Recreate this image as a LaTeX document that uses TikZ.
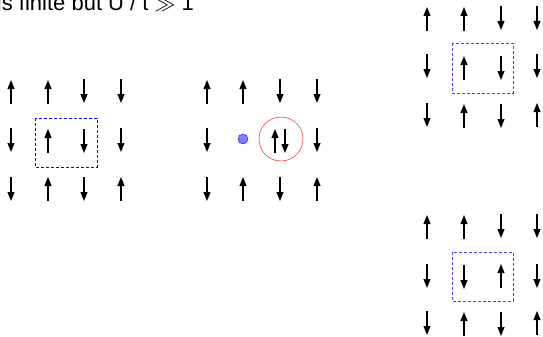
\documentclass[tikz,border=0pt]{standalone}
\usepackage{amsmath,amssymb}
\usepackage{fontspec}
\setmainfont{Liberation Sans}
\usetikzlibrary{arrows.meta}

\begin{document}
\begin{tikzpicture}[x=1pt,y=-1pt,
  spin/.style={line width=1.1pt,-{Triangle[length=9pt,width=7pt]}},
  cell/.style={blue,dashed,dash pattern=on 3pt off 2pt,line width=0.8pt}]

\useasboundingbox (0,0) rectangle (543,337);

\node[anchor=base east,font=\fontsize{22}{26}\selectfont,inner sep=0pt] (title) at (194,11) {is finite but U / t $\gg$ 1};

% left lattice
\draw[spin] (11,104)--(11,80);
\draw[spin] (48,104)--(48,80);
\draw[spin] (84,79)--(84,103);
\draw[spin] (121,79)--(121,103);

\draw[spin] (11,128)--(11,152);
\draw[spin] (48,153)--(48,129);
\draw[spin] (84,129)--(84,153);
\draw[spin] (121,128)--(121,152);

\draw[spin] (11,177)--(11,201);
\draw[spin] (48,201)--(48,177);
\draw[spin] (84,177)--(84,201);
\draw[spin] (121,201)--(121,177);

\draw[cell] (35,118) rectangle (97,167);

% middle lattice
\draw[spin] (207,104)--(207,80);
\draw[spin] (243,104)--(243,80);
\draw[spin] (280,79)--(280,103);
\draw[spin] (317,79)--(317,103);

\draw[spin] (207,128)--(207,152);
\draw[spin] (275,153)--(275,129);
\draw[spin] (285,129)--(285,153);
\draw[spin] (317,128)--(317,152);

\draw[spin] (207,177)--(207,201);
\draw[spin] (243,201)--(243,177);
\draw[spin] (280,177)--(280,201);
\draw[spin] (317,201)--(317,177);

\node[circle,draw=blue,fill=blue!50,minimum size=10pt,inner sep=0pt] (hole) at (243,139) {};
\node[circle,draw=red,minimum size=44pt,inner sep=0pt] (pair) at (281,139) {};

% top right lattice
\draw[spin] (427,31)--(427,7);
\draw[spin] (464,31)--(464,7);
\draw[spin] (501,6)--(501,30);
\draw[spin] (537,6)--(537,30);

\draw[spin] (427,54)--(427,78);
\draw[spin] (464,80)--(464,56);
\draw[spin] (501,56)--(501,80);
\draw[spin] (537,54)--(537,78);

\draw[spin] (427,103)--(427,127);
\draw[spin] (464,128)--(464,104);
\draw[spin] (501,104)--(501,128);
\draw[spin] (537,127)--(537,103);

\draw[cell,blue!75] (452,43) rectangle (513,93);

% bottom right lattice
\draw[spin] (427,239)--(427,215);
\draw[spin] (464,239)--(464,215);
\draw[spin] (501,214)--(501,238);
\draw[spin] (537,214)--(537,238);

\draw[spin] (427,264)--(427,288);
\draw[spin] (464,265)--(464,289);
\draw[spin] (501,288)--(501,264);
\draw[spin] (537,264)--(537,288);

\draw[spin] (427,311)--(427,335);
\draw[spin] (464,336)--(464,312);
\draw[spin] (501,312)--(501,336);
\draw[spin] (537,335)--(537,311);

\draw[cell,blue!75] (452,252) rectangle (513,301);

\end{tikzpicture}
\end{document}
